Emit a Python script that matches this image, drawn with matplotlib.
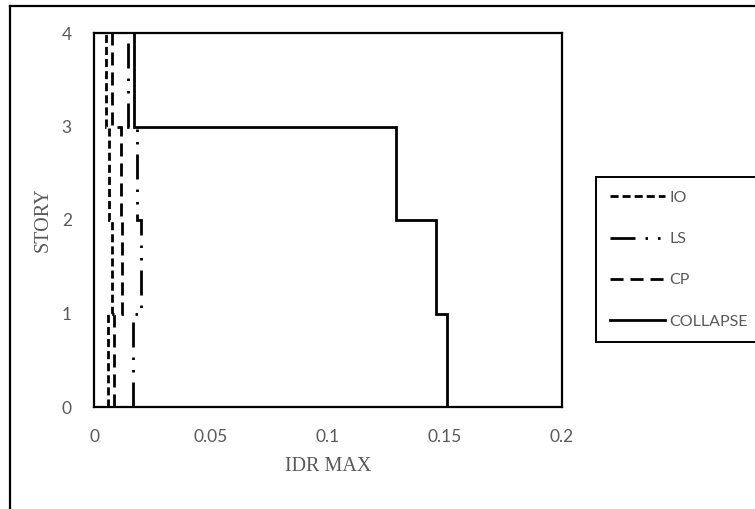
import numpy as np
import matplotlib.pyplot as plt
from matplotlib.lines import Line2D
from matplotlib.ticker import FuncFormatter

# story edges and max interstory drift ratio per story (story 1 at the bottom)
stories = [0, 1, 2, 3, 4]
idr_io = [0.006, 0.0077, 0.0064, 0.0051]
idr_ls = [0.0167, 0.0200, 0.0184, 0.0145]
idr_cp = [0.0085, 0.0120, 0.0115, 0.0077]
idr_collapse = [0.151, 0.146, 0.129, 0.017]

labels = ['IO', 'LS', 'CP', 'COLLAPSE']
styles = [(0, (2.9, 1.45)),
          (0, (9, 3.6, 0.9, 3.6, 0.9, 3.6)),
          (0, (4.7, 2.5)),
          '-']

grey = '#595959'
sans = ['Lato', 'DejaVu Sans']
serif = ['Liberation Serif', 'DejaVu Serif']


def step_xy(vals, edges):
    # vertical profile: each value spans one story, joined by horizontal steps
    x = np.repeat(vals, 2)
    y = np.repeat(edges, 2)[1:-1]
    return x, y


fig = plt.figure(figsize=(7.55, 5.09), dpi=100)
ax = fig.add_axes([94/755, 1-407/509, 468/755, 374/509])

for vals, lab, ls in zip([idr_io, idr_ls, idr_cp, idr_collapse], labels, styles):
    x, y = step_xy(vals, stories)
    ax.plot(x, y, color='black', lw=2.0, linestyle=ls, label=lab,
            solid_joinstyle='miter', dash_joinstyle='miter')

ax.set_xlim(0, 0.2)
ax.set_ylim(0, 4)
ax.set_xticks([0, 0.05, 0.1, 0.15, 0.2])
ax.set_yticks(stories)
ax.xaxis.set_major_formatter(FuncFormatter(lambda v, p: '%g' % v))
ax.tick_params(length=0, labelcolor=grey, labelsize=12.5)
ax.tick_params(axis='x', pad=15.5)
ax.tick_params(axis='y', pad=16)
for t in ax.get_xticklabels() + ax.get_yticklabels():
    t.set_family(sans)
for s in ax.spines.values():
    s.set_linewidth(1.6)
    s.set_color('black')

ax.set_xlabel('IDR MAX', family=serif, fontsize=14.5, color=grey)
ax.set_ylabel('STORY', family=serif, fontsize=14.5, color=grey)
ax.xaxis.set_label_coords(0.5, -0.135)
ax.yaxis.set_label_coords(-0.088, 0.5)

leg = fig.legend(loc='upper left', bbox_to_anchor=(596/755, 1-177/509),
                 prop={'family': sans, 'size': 11.5}, labelcolor=grey,
                 handlelength=3.5, handletextpad=0.25, labelspacing=1.7,
                 borderpad=0.85, borderaxespad=0, fancybox=False, framealpha=1)
leg.get_frame().set_edgecolor('black')
leg.get_frame().set_linewidth(1.4)

# chart frame, cut off at right and bottom
fig.add_artist(Line2D([10/755, 10/755], [0, 1-6/509], color='black', lw=1.6,
                      transform=fig.transFigure))
fig.add_artist(Line2D([10/755, 1], [1-6/509, 1-6/509], color='black', lw=1.6,
                      transform=fig.transFigure))

fig.savefig('out.png', dpi=100)
